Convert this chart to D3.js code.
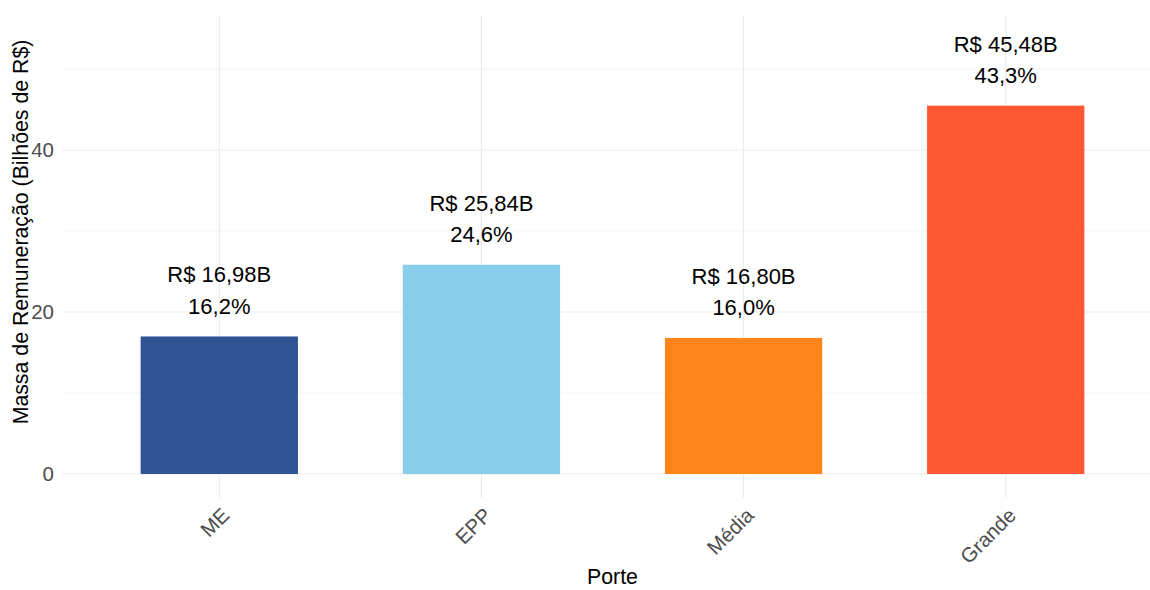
<!DOCTYPE html>
<html>
<head>
<meta charset="utf-8">
<script src="https://cdn.jsdelivr.net/npm/d3@7"></script>
<style>
  body { margin: 0; background: #fff; }
  svg { display: block; font-family: "Liberation Sans", Arial, sans-serif; }
</style>
</head>
<body>
<svg id="chart" width="1150" height="590"></svg>
<script>
const categories = ["ME", "EPP", "Média", "Grande"];
const values = [16.98, 25.84, 16.80, 45.48];
const valueLabels = ["R$ 16,98B", "R$ 25,84B", "R$ 16,80B", "R$ 45,48B"];
const pctLabels = ["16,2%", "24,6%", "16,0%", "43,3%"];
const colors = ["#2E5494", "#87CEEB", "#FF851B", "#FF5733"];
const yTicks = [0, 20, 40];
const yMinor = [10, 30, 50];

const svg = d3.select("#chart");
const W = 1150, H = 590;
const panel = { left: 62, right: 1163, top: 15, bottom: 498 };

const x = d3.scalePoint().domain(categories).range([panel.left, panel.right]).padding(0.6);
const barW = x.step() * 0.6;
const y = d3.scaleLinear().domain([0, 56.67]).range([474, panel.top]);

const g = svg.append("g");

// gridlines
g.selectAll(".minor").data(yMinor).enter().append("line")
  .attr("x1", panel.left).attr("x2", panel.right)
  .attr("y1", d => y(d)).attr("y2", d => y(d))
  .attr("stroke", "#EBEBEB").attr("stroke-width", 0.6);
g.selectAll(".major").data(yTicks).enter().append("line")
  .attr("x1", panel.left).attr("x2", panel.right)
  .attr("y1", d => y(d)).attr("y2", d => y(d))
  .attr("stroke", "#EBEBEB").attr("stroke-width", 1.1);
g.selectAll(".vmajor").data(categories).enter().append("line")
  .attr("x1", d => x(d)).attr("x2", d => x(d))
  .attr("y1", panel.top).attr("y2", panel.bottom)
  .attr("stroke", "#EBEBEB").attr("stroke-width", 1.1);

// bars
g.selectAll(".bar").data(categories).enter().append("rect")
  .attr("x", d => x(d) - barW / 2)
  .attr("width", barW)
  .attr("y", (d, i) => y(values[i]))
  .attr("height", (d, i) => y(0) - y(values[i]))
  .attr("fill", (d, i) => colors[i]);

// value labels
g.selectAll(".vl").data(categories).enter().append("text")
  .attr("x", d => x(d))
  .attr("y", (d, i) => y(values[i]) - 62)
  .attr("dy", "0.36em")
  .attr("text-anchor", "middle")
  .attr("font-size", 22)
  .attr("fill", "#000")
  .text((d, i) => valueLabels[i]);
g.selectAll(".pl").data(categories).enter().append("text")
  .attr("x", d => x(d))
  .attr("y", (d, i) => y(values[i]) - 30.5)
  .attr("dy", "0.36em")
  .attr("text-anchor", "middle")
  .attr("font-size", 22)
  .attr("fill", "#000")
  .text((d, i) => pctLabels[i]);

// y axis tick labels
const yAxis = d3.axisLeft(y).tickValues(yTicks).tickSize(0).tickPadding(0).tickFormat(d3.format("d"));
const ya = svg.append("g").attr("transform", `translate(${54},0)`).call(yAxis);
ya.select(".domain").remove();
ya.selectAll("text").attr("font-size", 20.5).attr("fill", "#4D4D4D")
  .attr("font-family", "Liberation Sans, Arial, sans-serif");

// x axis tick labels
const xAxis = d3.axisBottom(x).tickSize(0).tickPadding(0);
const xa = svg.append("g").attr("transform", `translate(0,${507})`).call(xAxis);
xa.select(".domain").remove();
xa.selectAll("text")
  .attr("font-size", 20.5).attr("fill", "#4D4D4D")
  .attr("font-family", "Liberation Sans, Arial, sans-serif")
  .attr("text-anchor", "end")
  .attr("x", 1).attr("y", 0).attr("dy", "0.71em")
  .attr("transform", "rotate(-45)");

// axis titles
svg.append("text")
  .attr("x", (panel.left + panel.right) / 2)
  .attr("y", 584)
  .attr("text-anchor", "middle")
  .attr("font-size", 21.3).attr("fill", "#000")
  .text("Porte");
svg.append("text")
  .attr("transform", `translate(27.5,232) rotate(-90)`)
  .attr("text-anchor", "middle")
  .attr("font-size", 21.3).attr("fill", "#000")
  .text("Massa de Remuneração (Bilhões de R$)");
</script>
</body>
</html>
